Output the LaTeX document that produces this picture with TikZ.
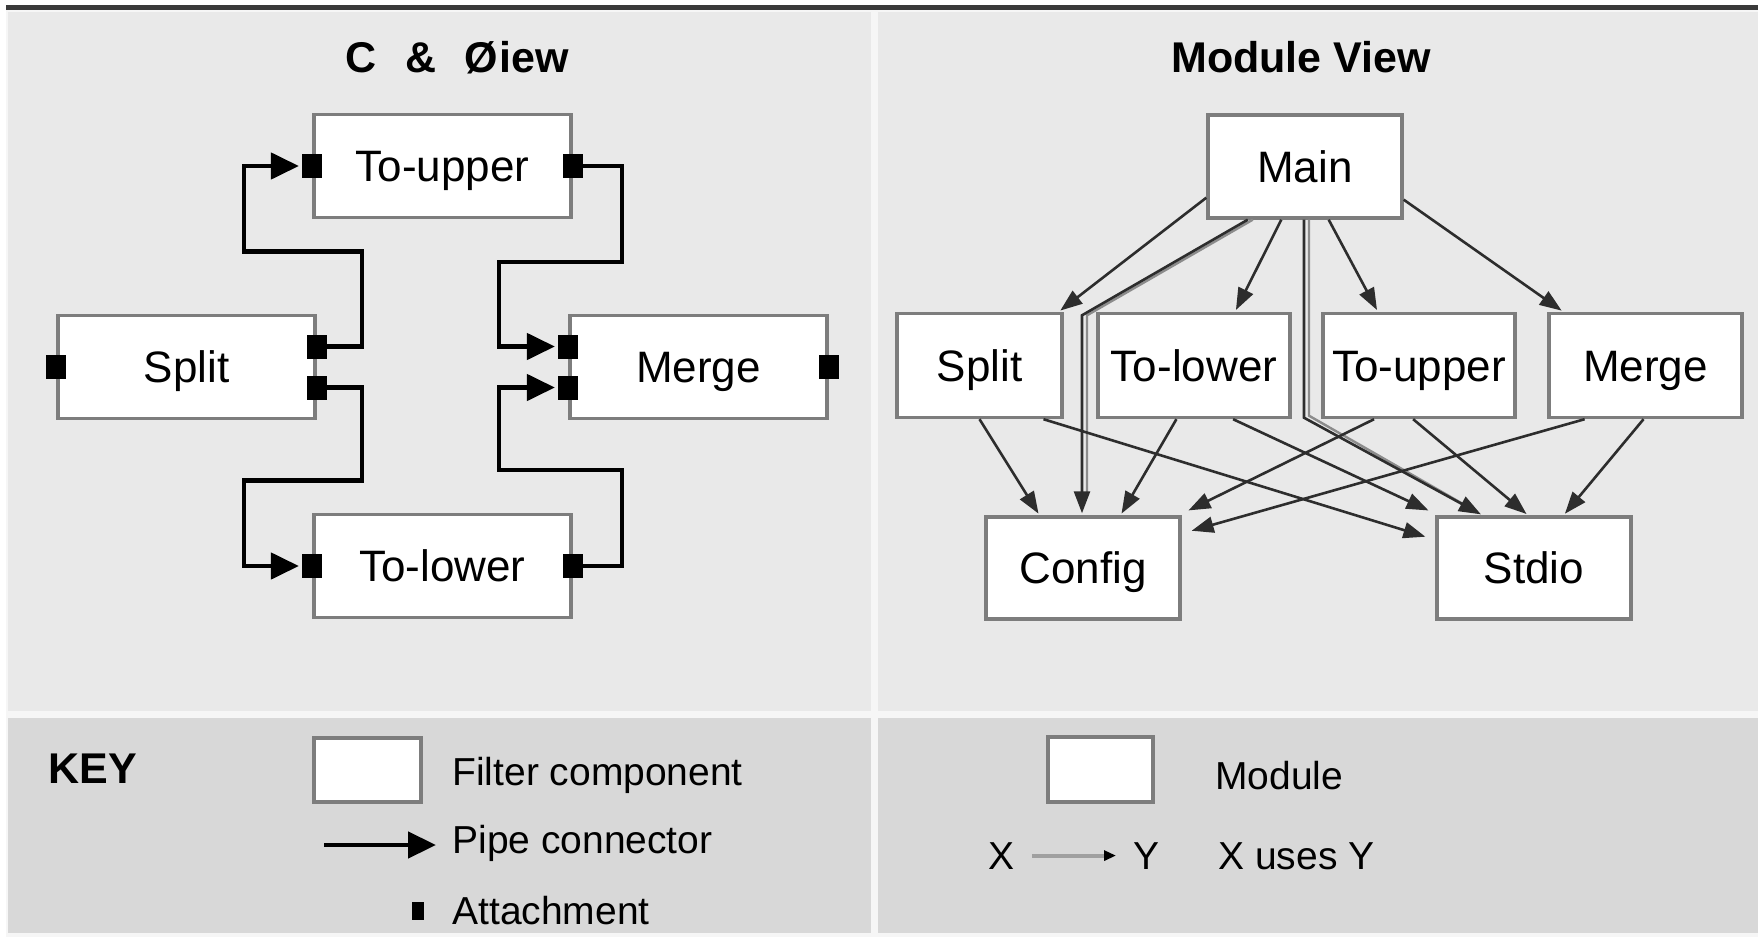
\documentclass[tikz,border=0pt]{standalone}
\usepackage{fontspec}
\setmainfont{Liberation Sans}
\usetikzlibrary{arrows.meta,calc}

\definecolor{panel}{RGB}{233,233,233}
\definecolor{keybg}{RGB}{216,216,216}
\definecolor{sepcol}{RGB}{246,246,246}
\definecolor{topbar}{RGB}{58,58,58}
\definecolor{boxline}{RGB}{125,125,125}
\definecolor{usecol}{RGB}{45,45,45}
\definecolor{shadowcol}{RGB}{140,140,140}
\definecolor{keyline}{RGB}{160,160,160}

\begin{document}
\begin{tikzpicture}[x=0.5pt,y=-0.5pt,
  box/.style={draw=boxline, line width=1.7pt, fill=white, inner sep=0pt,
    text height=20.2pt, text depth=4.4pt, font=\fontsize{22pt}{26pt}\selectfont},
  filt/.style={box, minimum width=128.5pt, minimum height=51.5pt},
  modbox/.style={box, minimum height=52pt},
  att/.style={fill=black, inner sep=0pt, minimum width=10pt, minimum height=12pt},
  pipe/.style={line width=2.3pt, -{Triangle[length=14pt,width=13pt]}, shorten >=1.5pt},
  uses/.style={draw=usecol, line width=1.3pt, -{Triangle[length=11pt,width=8pt]}, shorten >=1pt},
  usesshade/.style={draw=shadowcol, line width=1.2pt, shorten >=10pt},
  titletext/.style={inner sep=0pt, font=\fontsize{21.5pt}{25pt}\selectfont\bfseries},
  keytext/.style={inner sep=0pt, anchor=base west, font=\fontsize{19.5pt}{23pt}\selectfont},
]
\useasboundingbox (0,0) rectangle (1758,937);

% page background, rule and panels
\fill[white] (0,0) rectangle (1758,937);
\fill[sepcol] (6,9) rectangle (1758,937);
\fill[topbar] (6,5) rectangle (1758,9.5);
\fill[panel] (8,12) rectangle (871,711);
\fill[panel] (878,12) rectangle (1758,711);
\fill[keybg] (8,718) rectangle (871,933);
\fill[keybg] (878,718) rectangle (1758,933);

% titles
\node[titletext, anchor=base west] (ctitle) at (345,72) {C\hspace{14.5pt}\&\hspace{14pt}Ø\hspace{1pt}iew};
\node[titletext, anchor=base] (mtitle) at (1301,72) {Module View};

% ---------- component & connector view ----------
\node[filt] (tu) at (442.5,166) {To-upper};
\node[filt] (sp) at (186.5,367) {Split};
\node[filt] (mg) at (698.5,367) {Merge};
\node[filt] (tl) at (442.5,566) {To-lower};

\node[att] (tuw) at (tu.west) {};
\node[att] (tue) at (tu.east) {};
\node[att] (spw) at (sp.west) {};
\node[att] (spe1) at ($(sp.east)+(0,-20.5)$) {};
\node[att] (spe2) at ($(sp.east)+(0,20.5)$) {};
\node[att] (mgw1) at ($(mg.west)+(0,-20.5)$) {};
\node[att] (mgw2) at ($(mg.west)+(0,20.5)$) {};
\node[att] (mge) at (mg.east) {};
\node[att] (tlw) at (tl.west) {};
\node[att] (tle) at (tl.east) {};

\draw[pipe] (spe1.east) -- ++(35,0) -- ++(0,-95) -- ++(-118,0) |- (tuw.west);
\draw[pipe] (spe2.east) -- ++(35,0) -- ++(0,93) -- ++(-118,0) |- (tlw.west);
\draw[pipe] (tue.east) -- ++(39,0) -- ++(0,96) -- ++(-123,0) |- (mgw1.west);
\draw[pipe] (tle.east) -- ++(39,0) -- ++(0,-96) -- ++(-123,0) |- (mgw2.west);

% ---------- module view ----------
\node[modbox, minimum width=97pt, minimum height=51.5pt] (main) at (1305,166.5) {Main};
\node[modbox, minimum width=82.5pt] (msp) at (979.5,365.5) {Split};
\node[modbox, minimum width=96pt] (mtl) at (1194,365.5) {To-lower};
\node[modbox, minimum width=96pt] (mtu) at (1419,365.5) {To-upper};
\node[modbox, minimum width=96.5pt] (mmg) at (1645.5,365.5) {Merge};
\node[modbox, minimum width=97pt, minimum height=51pt] (cfg) at (1083,568) {Config};
\node[modbox, minimum width=97pt, minimum height=51pt] (std) at (1534,568) {Stdio};

% routed uses-edges from Main, with their light companion line
\draw[usesshade] ($(main.south west)!0.21!(main.south east)+(5,0)$) -- ($(cfg.north)+(4,-200)$) -- ($(cfg.north)+(4,0)$);
\draw[usesshade] ($(main.south)+(4,0)$) -- ($(main.south)+(4,196)$) -- ($(std.north west)!0.24!(std.north east)$);
\draw[uses] ($(main.south west)!0.21!(main.south east)$) -- ($(cfg.north)+(-1,-200)$) -- ($(cfg.north)+(-1,0)$);
\draw[uses] ($(main.south)+(-1,0)$) -- ($(main.south)+(-1,198)$) -- ($(std.north west)!0.24!(std.north east)$);

\draw[uses] ($(main.south west)+(0,-22)$) -- ($(msp.north east)+(-5,0)$);
\draw[uses] ($(main.south west)!0.38!(main.south east)$) -- ($(mtl.north west)!0.71!(mtl.north east)$);
\draw[uses] ($(main.south west)!0.62!(main.south east)$) -- ($(mtu.north west)!0.29!(mtu.north east)$);
\draw[uses] ($(main.south east)+(0,-20)$) -- ($(mmg.north west)+(16,0)$);

\draw[uses] (msp.south) -- ($(cfg.north west)!0.28!(cfg.north east)$);
\draw[uses] ($(msp.south west)!0.88!(msp.south east)$) -- ($(std.north west)+(-8,22)$);
\draw[uses] ($(mtl.south west)!0.41!(mtl.south east)$) -- ($(cfg.north west)!0.69!(cfg.north east)$);
\draw[uses] ($(mtl.south west)!0.70!(mtl.south east)$) -- ($(std.north west)+(-5,-4)$);
\draw[uses] ($(mtu.south west)!0.27!(mtu.south east)$) -- ($(cfg.north east)+(5,-4)$);
\draw[uses] ($(mtu.south west)!0.47!(mtu.south east)$) -- ($(std.north west)!0.47!(std.north east)$);
\draw[uses] ($(mmg.south west)!0.19!(mmg.south east)$) -- ($(cfg.north east)+(8,16)$);
\draw[uses] ($(mmg.south west)!0.49!(mmg.south east)$) -- ($(std.north west)!0.65!(std.north east)$);

% ---------- key ----------
\node[titletext, anchor=base west] (keyt) at (48,783) {KEY};
\node[box, minimum width=53.5pt, minimum height=32pt] (kbox) at (367.5,770) {};
\node[keytext] (kfilt) at (452,785) {Filter component};
\coordinate (kp1) at (324,845);
\coordinate (kp2) at (436,845);
\draw[pipe, shorten >=0pt] (kp1) -- (kp2);
\node[keytext] (kpipe) at (452,853) {Pipe connector};
\node[fill=black, inner sep=0pt, minimum width=6pt, minimum height=9pt] (katt) at (418,911) {};
\node[keytext] (kattt) at (452,924) {Attachment};

\node[box, minimum width=52.5pt, minimum height=32.5pt] (kmod) at (1100.5,769.5) {};
\node[keytext] (kmodt) at (1215,789) {Module};
\node[keytext] (kx) at (988,869) {X};
\node[keytext] (ky) at (1133,869) {Y};
\draw[draw=keyline, line width=2pt, -{Triangle[length=6pt,width=5pt,color=black]}]
  ($(kx.east)+(17,0)$) -- ($(ky.west)+(-17,0)$);
\node[keytext] (kuses) at (1218,869) {X uses Y};
\end{tikzpicture}
\end{document}
